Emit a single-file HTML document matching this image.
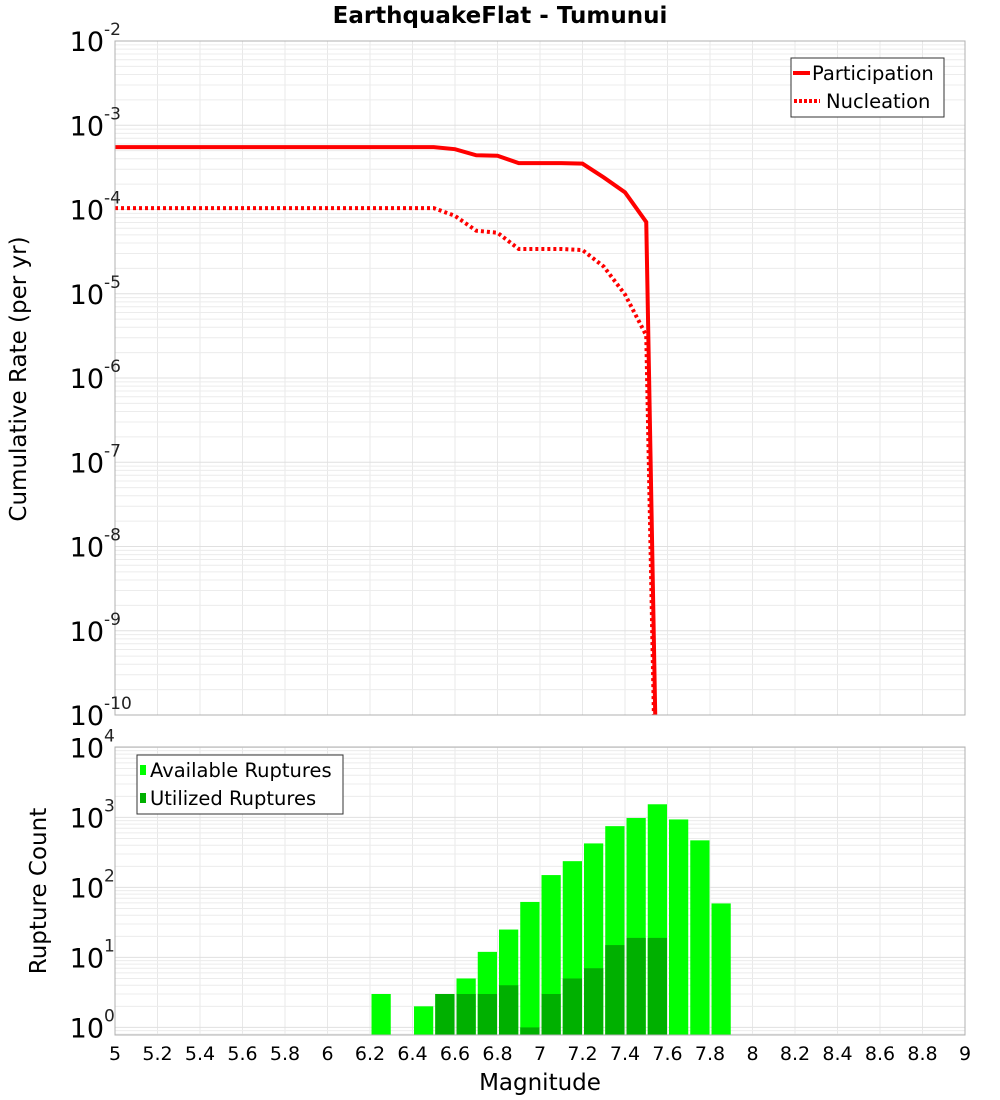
<!DOCTYPE html>
<html><head><meta charset="utf-8"><style>
html,body{margin:0;padding:0;background:#fff;width:1000px;height:1100px;overflow:hidden;}
svg{display:block;font-family:"DejaVu Sans","Liberation Sans",sans-serif;}
</style></head><body>
<svg id="chart" width="1000" height="1100" viewBox="0 0 1000 1100" xmlns="http://www.w3.org/2000/svg">
<text x="500" y="23" text-anchor="middle" font-size="23" font-weight="bold">EarthquakeFlat - Tumunui</text>
<text transform="translate(26,379) rotate(-90)" text-anchor="middle" font-size="23">Cumulative Rate (per yr)</text>
<text transform="translate(46,891) rotate(-90)" text-anchor="middle" font-size="23">Rupture Count</text>
<text x="540" y="1090" text-anchor="middle" font-size="23">Magnitude</text>
<g id="g"></g>
</svg>
<script>
// ---- data ----
const mags = [5.0,5.1,5.2,5.3,5.4,5.5,5.6,5.7,5.8,5.9,6.0,6.1,6.2,6.3,6.4,6.5,6.6,6.7,6.8,6.9,7.0,7.1,7.2,7.3,7.4,7.5,7.6];
const participation = [5.5e-4,5.5e-4,5.5e-4,5.5e-4,5.5e-4,5.5e-4,5.5e-4,5.5e-4,5.5e-4,5.5e-4,5.5e-4,5.5e-4,5.5e-4,5.5e-4,5.5e-4,5.5e-4,5.2e-4,4.4e-4,4.35e-4,3.55e-4,3.55e-4,3.55e-4,3.5e-4,2.4e-4,1.6e-4,7.1e-5,1e-18];
const nucleation = [1.04e-4,1.04e-4,1.04e-4,1.04e-4,1.04e-4,1.04e-4,1.04e-4,1.04e-4,1.04e-4,1.04e-4,1.04e-4,1.04e-4,1.04e-4,1.04e-4,1.04e-4,1.04e-4,8.4e-5,5.6e-5,5.3e-5,3.4e-5,3.4e-5,3.4e-5,3.3e-5,2.1e-5,9.8e-6,3.2e-6,1e-18];
const binStarts = [6.2,6.3,6.4,6.5,6.6,6.7,6.8,6.9,7.0,7.1,7.2,7.3,7.4,7.5,7.6,7.7,7.8];
const available = [3,0,2,3,5,12,25,62,150,237,425,750,980,1540,935,470,59];
const utilized = [0,0,0,3,3,3,4,1,3,5,7,15,19,19,0,0,0];
const xTicks = [5,5.2,5.4,5.6,5.8,6,6.2,6.4,6.6,6.8,7,7.2,7.4,7.6,7.8,8,8.2,8.4,8.6,8.8,9];
const topExps = [-2,-3,-4,-5,-6,-7,-8,-9,-10];
const botExps = [4,3,2,1,0];

// ---- layout ----
const L=115,R=965,T1=41,B1=715,T2=747,B2=1035;
const X = m => L + (m-5)/4*(R-L);
const Y1 = v => T1 + (-2 - Math.log10(v))/8*(B1-T1);
const bPx=70, b0=1027.4;
const Y2 = v => b0 - Math.log10(v)*bPx;
const NS="http://www.w3.org/2000/svg";
const g=document.getElementById('g');
function mk(tag,attrs,parent){const e=document.createElementNS(NS,tag);for(const k in attrs)e.setAttribute(k,attrs[k]);(parent||g).appendChild(e);return e;}

const defs=mk('defs',{});
const c1=mk('clipPath',{id:'c1'},defs);mk('rect',{x:L,y:T1,width:R-L,height:B1-T1},c1);
const c2=mk('clipPath',{id:'c2'},defs);mk('rect',{x:L,y:T2,width:R-L,height:B2-T2},c2);

function grid(top,bot,yf,lo,hi,name){
  const gg=mk('g',{'clip-path':top===T1?'url(#c1)':'url(#c2)'});
  
  
  for(const t of xTicks){mk('line',{x1:X(t),x2:X(t),y1:top,y2:bot,stroke:'#e8e8e8','stroke-width':1},gg);}
  for(let e=lo;e<=hi;e++)for(let k=1;k<10;k++){const y=yf(k*Math.pow(10,e));if(y<top||y>bot)continue;
    mk('line',{x1:L,x2:R,y1:y,y2:y,stroke:k===1?'#e0e0e0':'#ececec','stroke-width':1},gg);}
}
grid(T1,B1,Y1,-11,-3,'top-grid');
grid(T2,B2,Y2,-1,4,'bottom-grid');

function line(vals,dash,name){
  const p=mk('polyline',{points:mags.map((m,i)=>X(m)+','+Y1(vals[i])).join(' '),fill:'none',stroke:'#ff0000','stroke-width':4,'clip-path':'url(#c1)'});
  if(dash)p.setAttribute('stroke-dasharray','3,3');
  
  
}
line(nucleation,true,'nucleation-line');
line(participation,false,'participation-line');

const bw=(X(5.1)-X(5))-2;
binStarts.forEach((m,i)=>{
  if(available[i]>0){const y=Y2(available[i]);
    const r=mk('rect',{x:X(m)+1.5,y:y,width:bw,height:B2-y,fill:'#00ff00','clip-path':'url(#c2)'});
    
    }
  if(utilized[i]>0){const y=Y2(utilized[i]);
    const r=mk('rect',{x:X(m)+1.5,y:y,width:bw,height:B2-y,fill:'#00b000','clip-path':'url(#c2)'});
    
    }
});

mk('rect',{x:L,y:T1,width:R-L,height:B1-T1,fill:'none',stroke:'#b0b0b0'});
mk('rect',{x:L,y:T2,width:R-L,height:B2-T2,fill:'none',stroke:'#b0b0b0'});

function ylab(e,y,name){
  const t=mk('text',{x:104,y:y+10,'text-anchor':'end','font-size':27});
  
  
  t.textContent='10';
  const s=mk('text',{x:104,y:y-6,'font-size':17,fill:'#222'});
  s.textContent=String(e);
  
  
}
topExps.forEach(e=>ylab(e,Y1(Math.pow(10,e)),'top-y-tick-label'));
botExps.forEach(e=>ylab(e,Y2(Math.pow(10,e)),'bottom-y-tick-label'));

xTicks.forEach(t=>{const tx=mk('text',{x:X(t),y:1060,'text-anchor':'middle','font-size':19});
  
  
  tx.textContent=String(t);});

const lg=mk('g',{});


mk('rect',{x:791,y:58,width:153,height:59,fill:'#fff',stroke:'#333'},lg);
mk('line',{x1:793,x2:810,y1:73,y2:73,stroke:'#ff0000','stroke-width':4},lg);
mk('line',{x1:794,x2:820,y1:101,y2:101,stroke:'#ff0000','stroke-width':4,'stroke-dasharray':'3,2'},lg);
let t=mk('text',{x:812,y:80,'font-size':19.5},lg);t.textContent='Participation';
t=mk('text',{x:826,y:108,'font-size':19.5},lg);t.textContent='Nucleation';

const lg2=mk('g',{});


mk('rect',{x:137,y:755,width:206,height:59,fill:'#fff',stroke:'#333'},lg2);
mk('rect',{x:140,y:765,width:6,height:10,fill:'#00ff00'},lg2);
mk('rect',{x:140,y:793,width:6,height:10,fill:'#00b000'},lg2);
t=mk('text',{x:150,y:777,'font-size':19.5},lg2);t.textContent='Available Ruptures';
t=mk('text',{x:150,y:805,'font-size':19.5},lg2);t.textContent='Utilized Ruptures';
</script>
</body></html>
